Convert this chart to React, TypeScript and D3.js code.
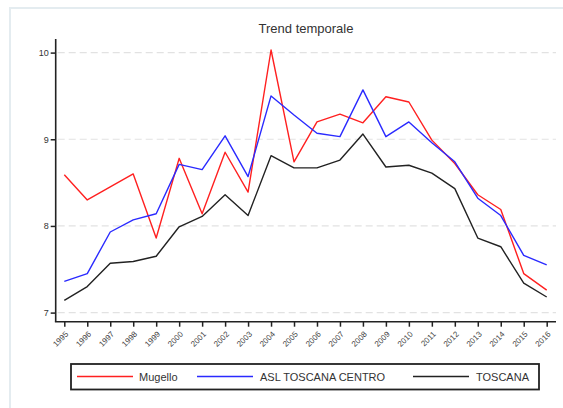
import React from 'react'
import * as d3 from 'd3'

const W = 563
const H = 408

const years = [1995, 1996, 1997, 1998, 1999, 2000, 2001, 2002, 2003, 2004, 2005,
  2006, 2007, 2008, 2009, 2010, 2011, 2012, 2013, 2014, 2015, 2016]

const mugello = [8.59, 8.30, 8.45, 8.60, 7.86, 8.78, 8.14, 8.85, 8.39, 10.03, 8.74,
  9.20, 9.29, 9.19, 9.49, 9.43, 8.99, 8.72, 8.36, 8.19, 7.45, 7.26]
const aslCentro = [7.36, 7.45, 7.93, 8.07, 8.14, 8.71, 8.65, 9.04, 8.57, 9.50, 9.28,
  9.07, 9.03, 9.57, 9.03, 9.20, 8.96, 8.74, 8.32, 8.12, 7.66, 7.55]
const toscana = [7.14, 7.30, 7.57, 7.59, 7.65, 7.99, 8.11, 8.36, 8.12, 8.81, 8.67,
  8.67, 8.76, 9.06, 8.68, 8.70, 8.61, 8.43, 7.86, 7.76, 7.34, 7.18]

const yTicks = [7, 8, 9, 10]

const series = [
  { name: 'Mugello', values: mugello, color: '#ff2020' },
  { name: 'ASL TOSCANA CENTRO', values: aslCentro, color: '#2a2aff' },
  { name: 'TOSCANA', values: toscana, color: '#222222' },
]

const FONT = 'Arial, "Liberation Sans", Helvetica, sans-serif'

export default function App() {
  const svgRef = React.useRef<SVGSVGElement>(null)

  React.useEffect(() => {
    const svg = d3.select(svgRef.current!)
    svg.selectAll('*').remove()

    // outer light frame
    svg.append('rect')
      .attr('x', 10).attr('y', 8).attr('width', 560).attr('height', 420)
      .attr('fill', '#fff').attr('stroke', '#e4ecf0').attr('stroke-width', 2)

    const axisX = 55.7
    const axisY = 321.7
    const x = d3.scaleLinear().domain([1995, 2016]).range([64.3, 546.7])
    const y = d3.scaleLinear().domain([7, 10]).range([312.6, 52.6])

    // title
    svg.append('text')
      .attr('x', 306).attr('y', 33).attr('text-anchor', 'middle')
      .attr('font-family', FONT).attr('font-size', 13).attr('fill', '#333')
      .text('Trend temporale')

    // dashed gridlines
    svg.append('g').selectAll('line').data(yTicks).enter().append('line')
      .attr('x1', axisX + 2).attr('x2', 556)
      .attr('y1', d => y(d)).attr('y2', d => y(d))
      .attr('stroke', '#e2e2e2').attr('stroke-width', 1.2)
      .attr('stroke-dasharray', '7,4')

    // y axis
    const yAxis = d3.axisLeft(y).tickValues(yTicks).tickSize(5).tickFormat(d3.format('d'))
    const gy = svg.append('g').attr('transform', `translate(${axisX},0)`).call(yAxis)
    gy.select('.domain').remove()
    gy.selectAll('.tick line').attr('stroke', '#222').attr('stroke-width', 1.5)
    gy.selectAll('.tick text').attr('font-family', FONT).attr('font-size', 9).attr('fill', '#333').attr('x', -7)
    svg.append('line').attr('x1', axisX).attr('x2', axisX).attr('y1', 39).attr('y2', axisY)
      .attr('stroke', '#222').attr('stroke-width', 1.6)

    // x axis
    const xAxis = d3.axisBottom(x).tickValues(years).tickSize(5).tickFormat(d3.format('d'))
    const gx = svg.append('g').attr('transform', `translate(0,${axisY})`).call(xAxis)
    gx.select('.domain').remove()
    gx.selectAll('.tick line').attr('stroke', '#222').attr('stroke-width', 1.5)
    gx.selectAll<SVGTextElement, number>('.tick text')
      .attr('font-family', FONT).attr('font-size', 8).attr('fill', '#444')
      .attr('text-anchor', 'end').attr('y', 0).attr('dy', '0.35em')
      .attr('transform', 'translate(2,11) rotate(-45)')
    svg.append('line').attr('x1', axisX - 0.8).attr('x2', 556).attr('y1', axisY).attr('y2', axisY)
      .attr('stroke', '#222').attr('stroke-width', 1.6)

    // series lines
    const line = d3.line<number>()
      .x((_, i) => x(years[i]))
      .y(d => y(d))
    series.forEach(s => {
      svg.append('path')
        .datum(s.values)
        .attr('d', line)
        .attr('fill', 'none')
        .attr('stroke', s.color)
        .attr('stroke-width', 1.4)
        .attr('stroke-linejoin', 'round')
    })

    // legend
    const lg = svg.append('g')
    lg.append('rect')
      .attr('x', 71).attr('y', 364).attr('width', 468).attr('height', 25.5)
      .attr('fill', '#fff').attr('stroke', '#222').attr('stroke-width', 1.8)
    const items = [
      { x1: 77, x2: 133, tx: 139 },
      { x1: 197, x2: 253, tx: 260 },
      { x1: 413, x2: 469, tx: 476 },
    ]
    series.forEach((s, i) => {
      const it = items[i]
      lg.append('line').attr('x1', it.x1).attr('x2', it.x2).attr('y1', 376.5).attr('y2', 376.5)
        .attr('stroke', s.color).attr('stroke-width', 1.6)
      lg.append('text').attr('x', it.tx).attr('y', 380.5)
        .attr('font-family', FONT).attr('font-size', 11).attr('fill', '#333')
        .text(s.name)
    })
  }, [])

  return (
    <svg ref={svgRef} width={W} height={H}
      style={{ position: 'absolute', left: 0, top: 0, background: '#fff' }} />
  )
}
